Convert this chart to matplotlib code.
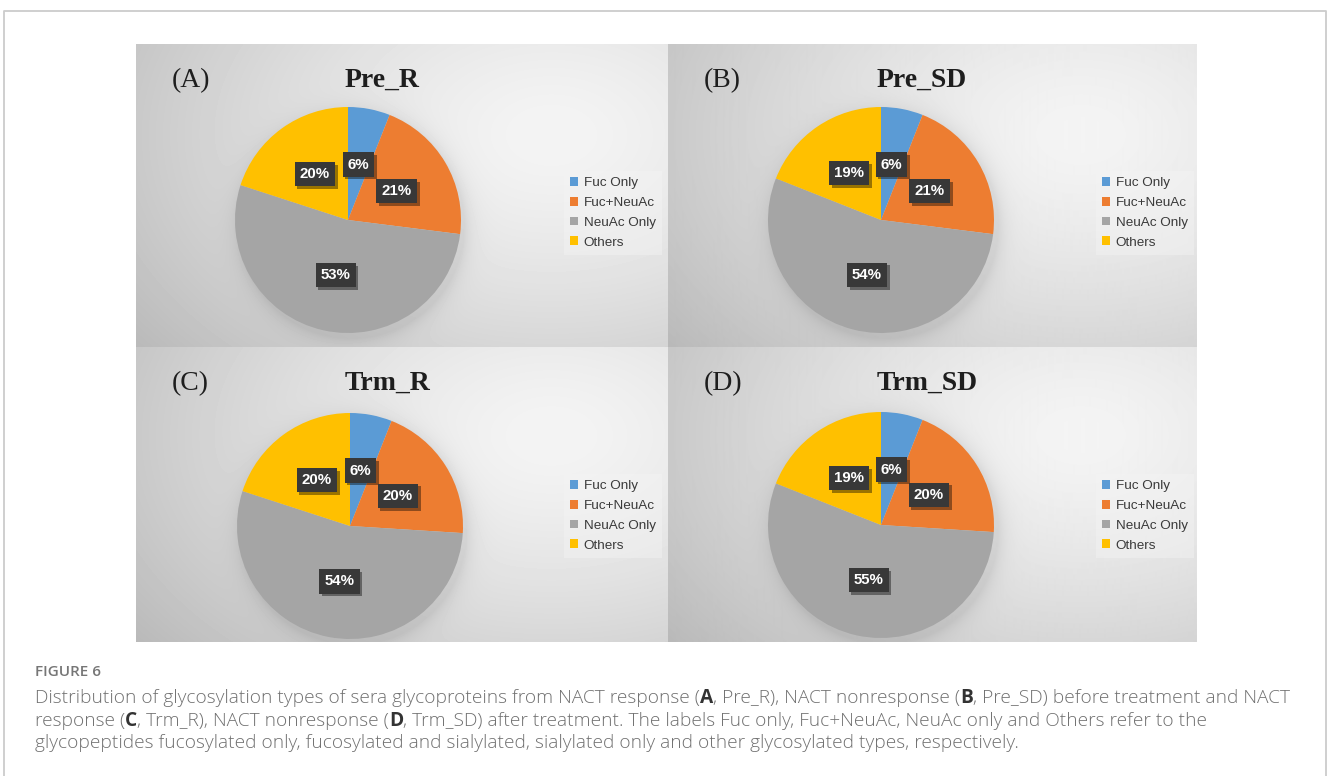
import matplotlib
matplotlib.use("Agg")
import matplotlib.pyplot as plt
import matplotlib.patheffects as pe
from matplotlib.lines import Line2D
import numpy as np

# ---------------------------------------------------------------------------
# Data
# ---------------------------------------------------------------------------
categories = ["Fuc Only", "Fuc+NeuAc", "NeuAc Only", "Others"]
colors = ["#5B9BD5", "#ED7D31", "#A5A5A5", "#FFC000"]

panel_letters = ["(A)", "(B)", "(C)", "(D)"]
panel_titles = ["Pre_R", "Pre_SD", "Trm_R", "Trm_SD"]

pre_r = [6, 21, 53, 20]
pre_sd = [6, 21, 54, 19]
trm_r = [6, 20, 54, 20]
trm_sd = [6, 20, 55, 19]
panel_values = [pre_r, pre_sd, trm_r, trm_sd]

caption_head = "FIGURE 6"
caption_lines = [
    [("Distribution of glycosylation types of sera glycoproteins from NACT response (", False),
     ("A", True), (", Pre_R), NACT nonresponse (", False), ("B", True),
     (", Pre_SD) before treatment and NACT", False)],
    [("response (", False), ("C", True), (", Trm_R), NACT nonresponse (", False), ("D", True),
     (", Trm_SD) after treatment. The labels Fuc only, Fuc+NeuAc, NeuAc only and Others refer to the", False)],
    [("glycopeptides fucosylated only, fucosylated and sialylated, sialylated only and other "
      "glycosylated types, respectively.", False)],
]

# ---------------------------------------------------------------------------
# Layout helpers (pixel coordinates, origin top-left)
# ---------------------------------------------------------------------------
W_PX, H_PX = 1328, 776


def frect(x, y, w, h):
    return [x / W_PX, 1 - (y + h) / H_PX, w / W_PX, h / H_PX]


def fpt(x, y):
    return x / W_PX, 1 - y / H_PX


panels = [(136, 44, 532, 303), (668, 44, 528, 303),
          (136, 347, 532, 295), (668, 347, 528, 295)]
pie_centers = [(348, 220), (881, 220), (350, 526), (881, 525)]
PIE_R = 113

fig = plt.figure(figsize=(W_PX / 100, H_PX / 100), dpi=100)
fig.patch.set_facecolor("white")

# outer frame (open at the bottom)
frame_kw = dict(color="#cccccc", linewidth=1.3, transform=fig.transFigure)
x0, y0 = fpt(4, 800)
x1, y1 = fpt(1326, 11)
fig.add_artist(Line2D([x0, x0, x1, x1], [y0, y1, y1, y0], **frame_kw))


def panel_background(w, h, cx, cy):
    """Grey radial wash with a soft shadow under the pie."""
    yy, xx = np.mgrid[0:h, 0:w].astype(float)
    d2 = ((xx - 0.78 * w) / (0.9 * w)) ** 2 + ((yy - 0.3 * h) / (1.05 * h)) ** 2
    img = 244 - 52 * d2 ** 0.7
    e = np.hypot(xx - (cx + 3), yy - (cy + 5)) - PIE_R
    shade = np.where(e > 0, 20 * np.exp(-e / 9.0), 20)
    img = img - shade
    return np.clip(img, 0, 255)


for i, (px, py, pw, ph) in enumerate(panels):
    cx, cy = pie_centers[i]

    ax_bg = fig.add_axes(frect(px, py, pw, ph))
    ax_bg.imshow(panel_background(pw, ph, cx - px, cy - py), cmap="gray",
                 vmin=0, vmax=255, aspect="auto", interpolation="bilinear")
    ax_bg.axis("off")

    # pie
    pad = 1.1
    ax = fig.add_axes(frect(cx - pad * PIE_R, cy - pad * PIE_R, 2 * pad * PIE_R, 2 * pad * PIE_R))
    vals = panel_values[i]
    wedges, _, autotexts = ax.pie(
        vals, colors=colors, startangle=90, counterclock=False,
        autopct=lambda p: f"{p:.0f}%", pctdistance=0.5,
        wedgeprops=dict(linewidth=0),
    )
    ax.set_xlim(-pad, pad)
    ax.set_ylim(-pad, pad)
    ax.set_aspect("equal")
    ax.axis("off")

    for t in autotexts:
        t.set_color("white")
        t.set_fontweight("bold")
        t.set_fontsize(10.8)
        t.set_family("Liberation Sans")
        t.set_bbox(dict(boxstyle="square,pad=0.34", facecolor="#383838", edgecolor="none"))
        t.get_bbox_patch().set_path_effects(
            [pe.withSimplePatchShadow(offset=(2, -2), shadow_rgbFace="black", alpha=0.4)])

    # panel letter and title
    fig.text(*fpt(px + 36, py + 43), panel_letters[i], family="Liberation Serif",
             fontsize=20, color="#1e1e1e", ha="left", va="baseline")
    fig.text(*fpt(px + 209, py + 43), panel_titles[i], family="Liberation Serif",
             fontweight="bold", fontsize=20, color="#1e1e1e", ha="left", va="baseline")

    # legend
    leg = ax.legend(wedges, categories, loc="upper left",
                    bbox_to_anchor=fpt(px + 428, py + 127), bbox_transform=fig.transFigure,
                    prop=dict(family="Liberation Sans", size=9.7),
                    handlelength=0.62, handleheight=0.62, handletextpad=0.4,
                    labelspacing=0.57, borderpad=0.45, borderaxespad=0,
                    frameon=True, fancybox=False)
    leg.get_frame().set_facecolor("#f4f4f4")
    leg.get_frame().set_alpha(0.45)
    leg.get_frame().set_edgecolor("none")
    for txt in leg.get_texts():
        txt.set_color("#3a3a3a")

# ---------------------------------------------------------------------------
# Caption
# ---------------------------------------------------------------------------
CAP_FONT = ["Open Sans", "DejaVu Sans"]
fig.text(*fpt(35, 676), caption_head, family=CAP_FONT, fontsize=11,
         fontweight="semibold", color="#767676", ha="left", va="baseline")

renderer = fig.canvas.get_renderer()
for k, segments in enumerate(caption_lines):
    x = 35 / W_PX
    y = fpt(0, 703 + 22.5 * k)[1]
    for text, bold in segments:
        t = fig.text(x, y, text, family=CAP_FONT, fontsize=13.8,
                     fontweight="bold" if bold else "light",
                     color="#333333" if bold else "#707070", ha="left", va="baseline")
        bb = t.get_window_extent(renderer)
        x = bb.x1 / W_PX

fig.savefig("out.png", dpi=100, facecolor="white")
